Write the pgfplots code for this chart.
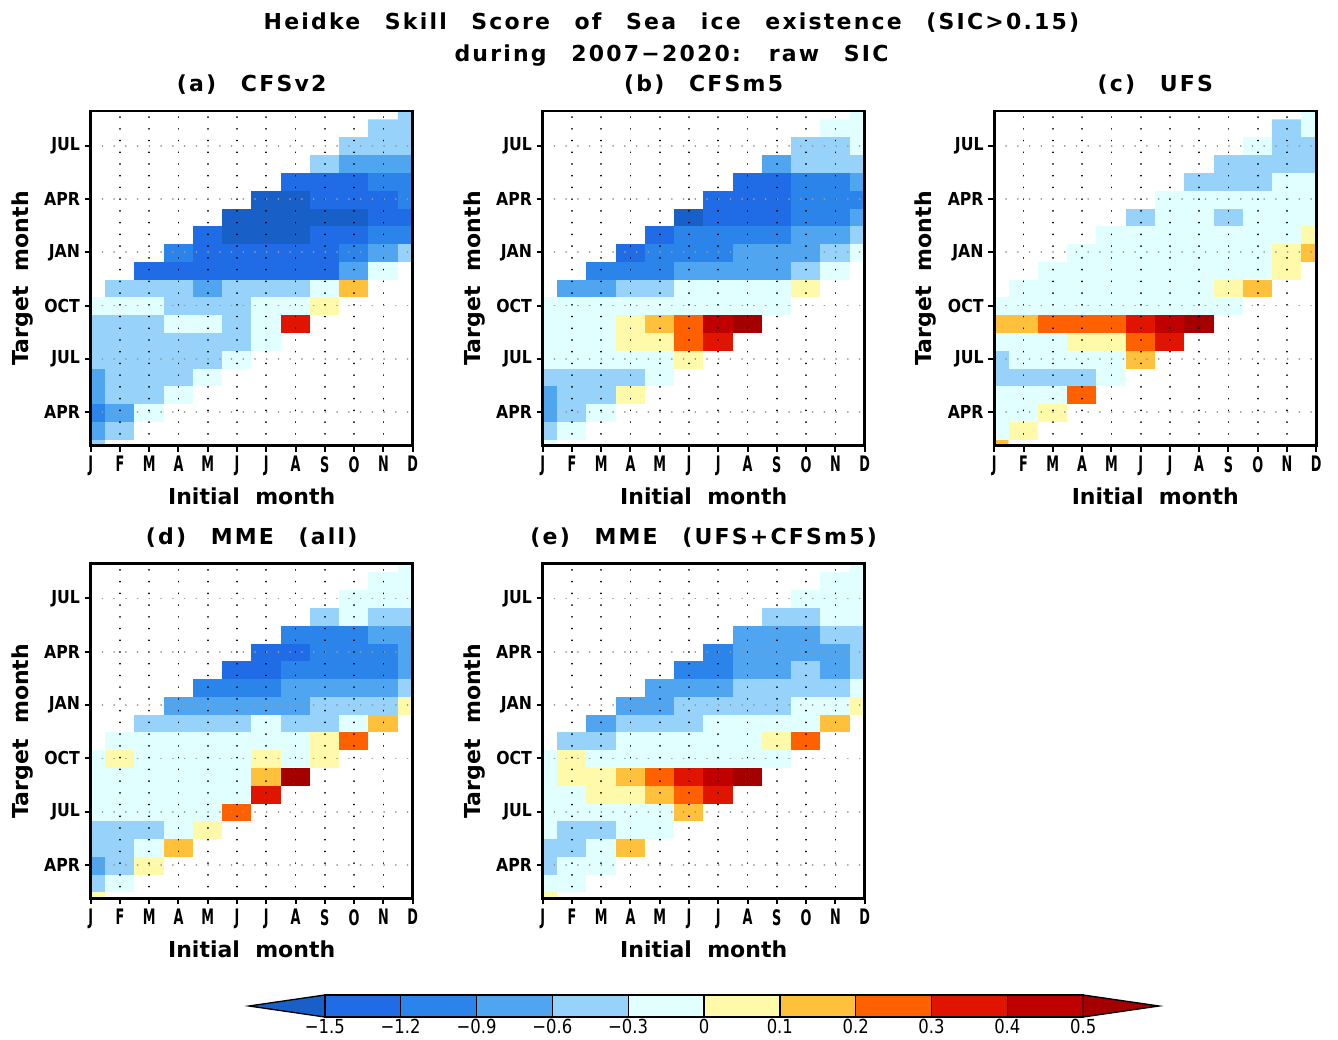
\documentclass[border=0pt]{standalone}
\usepackage{pgfplots}
\usepackage{pgfplotstable}
\pgfplotsset{compat=1.18}
\usepackage{fontspec}
\setmainfont{DejaVu Sans}
\newfontfamily\ttlfont[LetterSpace=10,WordSpace=2.5]{DejaVu Sans}
\newfontfamily\lblfont[LetterSpace=0,WordSpace=2]{DejaVu Sans}
\newfontfamily\ytfont[FakeStretch=0.88]{DejaVu Sans}
\newfontfamily\xtfont[FakeStretch=0.6]{DejaVu Sans}
\newfontfamily\cbfont[FakeStretch=0.85]{DejaVu Sans}

\definecolor{c1}{RGB}{24,96,200}
\definecolor{c2}{RGB}{31,108,230}
\definecolor{c3}{RGB}{43,132,233}
\definecolor{c4}{RGB}{80,165,240}
\definecolor{c5}{RGB}{150,210,250}
\definecolor{c6}{RGB}{225,255,255}
\definecolor{c7}{RGB}{255,250,170}
\definecolor{c8}{RGB}{255,192,60}
\definecolor{c9}{RGB}{255,96,0}
\definecolor{c10}{RGB}{225,20,0}
\definecolor{c11}{RGB}{192,0,0}
\definecolor{c12}{RGB}{165,0,0}

\pgfplotsset{colormap={hss}{rgb255=(255,255,255) rgb255=(24,96,200) rgb255=(31,108,230) rgb255=(43,132,233) rgb255=(80,165,240) rgb255=(150,210,250) rgb255=(225,255,255) rgb255=(255,250,170) rgb255=(255,192,60) rgb255=(255,96,0) rgb255=(225,20,0) rgb255=(192,0,0) rgb255=(165,0,0)}}

% level index: 0 none, 1 <-1.5, 2 -1.5..-1.2, 3 -1.2..-0.9, 4 -0.9..-0.6, 5 -0.6..-0.3, 6 -0.3..0,
% 7 0..0.1, 8 0.1..0.2, 9 0.2..0.3, 10 0.3..0.4, 11 0.4..0.5, 12 >0.5
\pgfplotstableread[row sep=\\]{
x y c\\
0 1 5\\1 1 0\\2 1 0\\3 1 0\\4 1 0\\5 1 0\\6 1 0\\7 1 0\\8 1 0\\9 1 0\\10 1 0\\11 1 0\\
0 2 4\\1 2 5\\2 2 0\\3 2 0\\4 2 0\\5 2 0\\6 2 0\\7 2 0\\8 2 0\\9 2 0\\10 2 0\\11 2 0\\
0 3 3\\1 3 4\\2 3 6\\3 3 0\\4 3 0\\5 3 0\\6 3 0\\7 3 0\\8 3 0\\9 3 0\\10 3 0\\11 3 0\\
0 4 4\\1 4 5\\2 4 5\\3 4 6\\4 4 0\\5 4 0\\6 4 0\\7 4 0\\8 4 0\\9 4 0\\10 4 0\\11 4 0\\
0 5 4\\1 5 5\\2 5 5\\3 5 5\\4 5 6\\5 5 0\\6 5 0\\7 5 0\\8 5 0\\9 5 0\\10 5 0\\11 5 0\\
0 6 5\\1 6 5\\2 6 5\\3 6 5\\4 6 5\\5 6 6\\6 6 0\\7 6 0\\8 6 0\\9 6 0\\10 6 0\\11 6 0\\
0 7 5\\1 7 5\\2 7 5\\3 7 5\\4 7 5\\5 7 5\\6 7 6\\7 7 0\\8 7 0\\9 7 0\\10 7 0\\11 7 0\\
0 8 5\\1 8 5\\2 8 5\\3 8 6\\4 8 6\\5 8 5\\6 8 6\\7 8 10\\8 8 0\\9 8 0\\10 8 0\\11 8 0\\
0 9 6\\1 9 6\\2 9 6\\3 9 5\\4 9 5\\5 9 5\\6 9 6\\7 9 6\\8 9 7\\9 9 0\\10 9 0\\11 9 0\\
0 10 0\\1 10 5\\2 10 5\\3 10 5\\4 10 4\\5 10 5\\6 10 5\\7 10 5\\8 10 6\\9 10 8\\10 10 0\\11 10 0\\
0 11 0\\1 11 0\\2 11 2\\3 11 2\\4 11 2\\5 11 2\\6 11 2\\7 11 2\\8 11 2\\9 11 4\\10 11 6\\11 11 0\\
0 12 0\\1 12 0\\2 12 0\\3 12 3\\4 12 2\\5 12 2\\6 12 2\\7 12 2\\8 12 2\\9 12 3\\10 12 4\\11 12 5\\
0 13 0\\1 13 0\\2 13 0\\3 13 0\\4 13 2\\5 13 1\\6 13 1\\7 13 1\\8 13 2\\9 13 2\\10 13 3\\11 13 3\\
0 14 0\\1 14 0\\2 14 0\\3 14 0\\4 14 0\\5 14 1\\6 14 1\\7 14 1\\8 14 1\\9 14 1\\10 14 2\\11 14 2\\
0 15 0\\1 15 0\\2 15 0\\3 15 0\\4 15 0\\5 15 0\\6 15 1\\7 15 1\\8 15 2\\9 15 2\\10 15 2\\11 15 3\\
0 16 0\\1 16 0\\2 16 0\\3 16 0\\4 16 0\\5 16 0\\6 16 0\\7 16 2\\8 16 2\\9 16 2\\10 16 3\\11 16 3\\
0 17 0\\1 17 0\\2 17 0\\3 17 0\\4 17 0\\5 17 0\\6 17 0\\7 17 0\\8 17 5\\9 17 4\\10 17 4\\11 17 4\\
0 18 0\\1 18 0\\2 18 0\\3 18 0\\4 18 0\\5 18 0\\6 18 0\\7 18 0\\8 18 0\\9 18 5\\10 18 5\\11 18 5\\
0 19 0\\1 19 0\\2 19 0\\3 19 0\\4 19 0\\5 19 0\\6 19 0\\7 19 0\\8 19 0\\9 19 0\\10 19 5\\11 19 5\\
0 20 0\\1 20 0\\2 20 0\\3 20 0\\4 20 0\\5 20 0\\6 20 0\\7 20 0\\8 20 0\\9 20 0\\10 20 0\\11 20 5\\
}\hssA

\pgfplotstableread[row sep=\\]{
x y c\\
0 1 6\\1 1 0\\2 1 0\\3 1 0\\4 1 0\\5 1 0\\6 1 0\\7 1 0\\8 1 0\\9 1 0\\10 1 0\\11 1 0\\
0 2 5\\1 2 6\\2 2 0\\3 2 0\\4 2 0\\5 2 0\\6 2 0\\7 2 0\\8 2 0\\9 2 0\\10 2 0\\11 2 0\\
0 3 4\\1 3 5\\2 3 6\\3 3 0\\4 3 0\\5 3 0\\6 3 0\\7 3 0\\8 3 0\\9 3 0\\10 3 0\\11 3 0\\
0 4 4\\1 4 5\\2 4 5\\3 4 7\\4 4 0\\5 4 0\\6 4 0\\7 4 0\\8 4 0\\9 4 0\\10 4 0\\11 4 0\\
0 5 5\\1 5 5\\2 5 5\\3 5 5\\4 5 6\\5 5 0\\6 5 0\\7 5 0\\8 5 0\\9 5 0\\10 5 0\\11 5 0\\
0 6 6\\1 6 6\\2 6 6\\3 6 6\\4 6 6\\5 6 7\\6 6 0\\7 6 0\\8 6 0\\9 6 0\\10 6 0\\11 6 0\\
0 7 6\\1 7 6\\2 7 6\\3 7 7\\4 7 7\\5 7 9\\6 7 10\\7 7 0\\8 7 0\\9 7 0\\10 7 0\\11 7 0\\
0 8 6\\1 8 6\\2 8 6\\3 8 7\\4 8 8\\5 8 9\\6 8 11\\7 8 12\\8 8 0\\9 8 0\\10 8 0\\11 8 0\\
0 9 6\\1 9 6\\2 9 6\\3 9 6\\4 9 6\\5 9 6\\6 9 6\\7 9 6\\8 9 6\\9 9 0\\10 9 0\\11 9 0\\
0 10 0\\1 10 4\\2 10 4\\3 10 5\\4 10 5\\5 10 6\\6 10 6\\7 10 6\\8 10 6\\9 10 7\\10 10 0\\11 10 0\\
0 11 0\\1 11 0\\2 11 3\\3 11 3\\4 11 3\\5 11 4\\6 11 4\\7 11 4\\8 11 4\\9 11 5\\10 11 6\\11 11 0\\
0 12 0\\1 12 0\\2 12 0\\3 12 2\\4 12 3\\5 12 3\\6 12 3\\7 12 4\\8 12 4\\9 12 4\\10 12 5\\11 12 6\\
0 13 0\\1 13 0\\2 13 0\\3 13 0\\4 13 2\\5 13 3\\6 13 3\\7 13 3\\8 13 3\\9 13 4\\10 13 4\\11 13 5\\
0 14 0\\1 14 0\\2 14 0\\3 14 0\\4 14 0\\5 14 1\\6 14 2\\7 14 2\\8 14 2\\9 14 3\\10 14 3\\11 14 4\\
0 15 0\\1 15 0\\2 15 0\\3 15 0\\4 15 0\\5 15 0\\6 15 2\\7 15 2\\8 15 2\\9 15 3\\10 15 3\\11 15 3\\
0 16 0\\1 16 0\\2 16 0\\3 16 0\\4 16 0\\5 16 0\\6 16 0\\7 16 2\\8 16 2\\9 16 3\\10 16 3\\11 16 4\\
0 17 0\\1 17 0\\2 17 0\\3 17 0\\4 17 0\\5 17 0\\6 17 0\\7 17 0\\8 17 4\\9 17 5\\10 17 5\\11 17 5\\
0 18 0\\1 18 0\\2 18 0\\3 18 0\\4 18 0\\5 18 0\\6 18 0\\7 18 0\\8 18 0\\9 18 5\\10 18 5\\11 18 6\\
0 19 0\\1 19 0\\2 19 0\\3 19 0\\4 19 0\\5 19 0\\6 19 0\\7 19 0\\8 19 0\\9 19 0\\10 19 6\\11 19 6\\
0 20 0\\1 20 0\\2 20 0\\3 20 0\\4 20 0\\5 20 0\\6 20 0\\7 20 0\\8 20 0\\9 20 0\\10 20 0\\11 20 6\\
}\hssB

\pgfplotstableread[row sep=\\]{
x y c\\
0 1 8\\1 1 0\\2 1 0\\3 1 0\\4 1 0\\5 1 0\\6 1 0\\7 1 0\\8 1 0\\9 1 0\\10 1 0\\11 1 0\\
0 2 6\\1 2 7\\2 2 0\\3 2 0\\4 2 0\\5 2 0\\6 2 0\\7 2 0\\8 2 0\\9 2 0\\10 2 0\\11 2 0\\
0 3 6\\1 3 6\\2 3 7\\3 3 0\\4 3 0\\5 3 0\\6 3 0\\7 3 0\\8 3 0\\9 3 0\\10 3 0\\11 3 0\\
0 4 6\\1 4 6\\2 4 6\\3 4 9\\4 4 0\\5 4 0\\6 4 0\\7 4 0\\8 4 0\\9 4 0\\10 4 0\\11 4 0\\
0 5 5\\1 5 5\\2 5 5\\3 5 5\\4 5 6\\5 5 0\\6 5 0\\7 5 0\\8 5 0\\9 5 0\\10 5 0\\11 5 0\\
0 6 5\\1 6 6\\2 6 6\\3 6 6\\4 6 6\\5 6 8\\6 6 0\\7 6 0\\8 6 0\\9 6 0\\10 6 0\\11 6 0\\
0 7 6\\1 7 6\\2 7 6\\3 7 7\\4 7 7\\5 7 9\\6 7 10\\7 7 0\\8 7 0\\9 7 0\\10 7 0\\11 7 0\\
0 8 8\\1 8 8\\2 8 9\\3 8 9\\4 8 9\\5 8 10\\6 8 11\\7 8 12\\8 8 0\\9 8 0\\10 8 0\\11 8 0\\
0 9 6\\1 9 6\\2 9 6\\3 9 6\\4 9 6\\5 9 6\\6 9 6\\7 9 6\\8 9 6\\9 9 0\\10 9 0\\11 9 0\\
0 10 0\\1 10 6\\2 10 6\\3 10 6\\4 10 6\\5 10 6\\6 10 6\\7 10 6\\8 10 7\\9 10 8\\10 10 0\\11 10 0\\
0 11 0\\1 11 0\\2 11 6\\3 11 6\\4 11 6\\5 11 6\\6 11 6\\7 11 6\\8 11 6\\9 11 6\\10 11 7\\11 11 0\\
0 12 0\\1 12 0\\2 12 0\\3 12 6\\4 12 6\\5 12 6\\6 12 6\\7 12 6\\8 12 6\\9 12 6\\10 12 7\\11 12 8\\
0 13 0\\1 13 0\\2 13 0\\3 13 0\\4 13 6\\5 13 6\\6 13 6\\7 13 6\\8 13 6\\9 13 6\\10 13 6\\11 13 7\\
0 14 0\\1 14 0\\2 14 0\\3 14 0\\4 14 0\\5 14 5\\6 14 6\\7 14 6\\8 14 5\\9 14 6\\10 14 6\\11 14 6\\
0 15 0\\1 15 0\\2 15 0\\3 15 0\\4 15 0\\5 15 0\\6 15 6\\7 15 6\\8 15 6\\9 15 6\\10 15 6\\11 15 6\\
0 16 0\\1 16 0\\2 16 0\\3 16 0\\4 16 0\\5 16 0\\6 16 0\\7 16 5\\8 16 5\\9 16 5\\10 16 6\\11 16 6\\
0 17 0\\1 17 0\\2 17 0\\3 17 0\\4 17 0\\5 17 0\\6 17 0\\7 17 0\\8 17 5\\9 17 5\\10 17 5\\11 17 5\\
0 18 0\\1 18 0\\2 18 0\\3 18 0\\4 18 0\\5 18 0\\6 18 0\\7 18 0\\8 18 0\\9 18 6\\10 18 5\\11 18 5\\
0 19 0\\1 19 0\\2 19 0\\3 19 0\\4 19 0\\5 19 0\\6 19 0\\7 19 0\\8 19 0\\9 19 0\\10 19 5\\11 19 6\\
0 20 0\\1 20 0\\2 20 0\\3 20 0\\4 20 0\\5 20 0\\6 20 0\\7 20 0\\8 20 0\\9 20 0\\10 20 0\\11 20 6\\
}\hssC

\pgfplotstableread[row sep=\\]{
x y c\\
0 1 7\\1 1 0\\2 1 0\\3 1 0\\4 1 0\\5 1 0\\6 1 0\\7 1 0\\8 1 0\\9 1 0\\10 1 0\\11 1 0\\
0 2 5\\1 2 6\\2 2 0\\3 2 0\\4 2 0\\5 2 0\\6 2 0\\7 2 0\\8 2 0\\9 2 0\\10 2 0\\11 2 0\\
0 3 4\\1 3 5\\2 3 7\\3 3 0\\4 3 0\\5 3 0\\6 3 0\\7 3 0\\8 3 0\\9 3 0\\10 3 0\\11 3 0\\
0 4 5\\1 4 5\\2 4 6\\3 4 8\\4 4 0\\5 4 0\\6 4 0\\7 4 0\\8 4 0\\9 4 0\\10 4 0\\11 4 0\\
0 5 5\\1 5 5\\2 5 5\\3 5 6\\4 5 7\\5 5 0\\6 5 0\\7 5 0\\8 5 0\\9 5 0\\10 5 0\\11 5 0\\
0 6 6\\1 6 6\\2 6 6\\3 6 6\\4 6 6\\5 6 9\\6 6 0\\7 6 0\\8 6 0\\9 6 0\\10 6 0\\11 6 0\\
0 7 6\\1 7 6\\2 7 6\\3 7 6\\4 7 6\\5 7 6\\6 7 10\\7 7 0\\8 7 0\\9 7 0\\10 7 0\\11 7 0\\
0 8 6\\1 8 6\\2 8 6\\3 8 6\\4 8 6\\5 8 6\\6 8 8\\7 8 12\\8 8 0\\9 8 0\\10 8 0\\11 8 0\\
0 9 6\\1 9 7\\2 9 6\\3 9 6\\4 9 6\\5 9 6\\6 9 7\\7 9 6\\8 9 7\\9 9 0\\10 9 0\\11 9 0\\
0 10 0\\1 10 6\\2 10 6\\3 10 6\\4 10 6\\5 10 6\\6 10 6\\7 10 6\\8 10 7\\9 10 9\\10 10 0\\11 10 0\\
0 11 0\\1 11 0\\2 11 5\\3 11 5\\4 11 5\\5 11 5\\6 11 6\\7 11 5\\8 11 5\\9 11 6\\10 11 8\\11 11 0\\
0 12 0\\1 12 0\\2 12 0\\3 12 4\\4 12 4\\5 12 4\\6 12 4\\7 12 4\\8 12 5\\9 12 5\\10 12 5\\11 12 7\\
0 13 0\\1 13 0\\2 13 0\\3 13 0\\4 13 3\\5 13 3\\6 13 3\\7 13 4\\8 13 4\\9 13 4\\10 13 4\\11 13 5\\
0 14 0\\1 14 0\\2 14 0\\3 14 0\\4 14 0\\5 14 2\\6 14 2\\7 14 3\\8 14 3\\9 14 3\\10 14 3\\11 14 4\\
0 15 0\\1 15 0\\2 15 0\\3 15 0\\4 15 0\\5 15 0\\6 15 2\\7 15 2\\8 15 3\\9 15 3\\10 15 3\\11 15 4\\
0 16 0\\1 16 0\\2 16 0\\3 16 0\\4 16 0\\5 16 0\\6 16 0\\7 16 3\\8 16 3\\9 16 3\\10 16 4\\11 16 4\\
0 17 0\\1 17 0\\2 17 0\\3 17 0\\4 17 0\\5 17 0\\6 17 0\\7 17 0\\8 17 5\\9 17 6\\10 17 5\\11 17 5\\
0 18 0\\1 18 0\\2 18 0\\3 18 0\\4 18 0\\5 18 0\\6 18 0\\7 18 0\\8 18 0\\9 18 6\\10 18 6\\11 18 6\\
0 19 0\\1 19 0\\2 19 0\\3 19 0\\4 19 0\\5 19 0\\6 19 0\\7 19 0\\8 19 0\\9 19 0\\10 19 6\\11 19 6\\
0 20 0\\1 20 0\\2 20 0\\3 20 0\\4 20 0\\5 20 0\\6 20 0\\7 20 0\\8 20 0\\9 20 0\\10 20 0\\11 20 6\\
}\hssD

\pgfplotstableread[row sep=\\]{
x y c\\
0 1 7\\1 1 0\\2 1 0\\3 1 0\\4 1 0\\5 1 0\\6 1 0\\7 1 0\\8 1 0\\9 1 0\\10 1 0\\11 1 0\\
0 2 6\\1 2 6\\2 2 0\\3 2 0\\4 2 0\\5 2 0\\6 2 0\\7 2 0\\8 2 0\\9 2 0\\10 2 0\\11 2 0\\
0 3 5\\1 3 6\\2 3 6\\3 3 0\\4 3 0\\5 3 0\\6 3 0\\7 3 0\\8 3 0\\9 3 0\\10 3 0\\11 3 0\\
0 4 5\\1 4 5\\2 4 6\\3 4 8\\4 4 0\\5 4 0\\6 4 0\\7 4 0\\8 4 0\\9 4 0\\10 4 0\\11 4 0\\
0 5 6\\1 5 5\\2 5 5\\3 5 6\\4 5 6\\5 5 0\\6 5 0\\7 5 0\\8 5 0\\9 5 0\\10 5 0\\11 5 0\\
0 6 6\\1 6 6\\2 6 6\\3 6 6\\4 6 6\\5 6 8\\6 6 0\\7 6 0\\8 6 0\\9 6 0\\10 6 0\\11 6 0\\
0 7 6\\1 7 6\\2 7 7\\3 7 7\\4 7 8\\5 7 9\\6 7 10\\7 7 0\\8 7 0\\9 7 0\\10 7 0\\11 7 0\\
0 8 6\\1 8 7\\2 8 7\\3 8 8\\4 8 9\\5 8 10\\6 8 11\\7 8 12\\8 8 0\\9 8 0\\10 8 0\\11 8 0\\
0 9 6\\1 9 7\\2 9 6\\3 9 6\\4 9 6\\5 9 6\\6 9 6\\7 9 6\\8 9 6\\9 9 0\\10 9 0\\11 9 0\\
0 10 0\\1 10 5\\2 10 5\\3 10 6\\4 10 6\\5 10 6\\6 10 6\\7 10 6\\8 10 7\\9 10 9\\10 10 0\\11 10 0\\
0 11 0\\1 11 0\\2 11 4\\3 11 5\\4 11 5\\5 11 5\\6 11 6\\7 11 6\\8 11 6\\9 11 6\\10 11 8\\11 11 0\\
0 12 0\\1 12 0\\2 12 0\\3 12 4\\4 12 4\\5 12 5\\6 12 5\\7 12 5\\8 12 5\\9 12 6\\10 12 6\\11 12 7\\
0 13 0\\1 13 0\\2 13 0\\3 13 0\\4 13 4\\5 13 4\\6 13 4\\7 13 5\\8 13 5\\9 13 5\\10 13 5\\11 13 6\\
0 14 0\\1 14 0\\2 14 0\\3 14 0\\4 14 0\\5 14 3\\6 14 3\\7 14 4\\8 14 4\\9 14 5\\10 14 4\\11 14 5\\
0 15 0\\1 15 0\\2 15 0\\3 15 0\\4 15 0\\5 15 0\\6 15 3\\7 15 4\\8 15 4\\9 15 4\\10 15 4\\11 15 5\\
0 16 0\\1 16 0\\2 16 0\\3 16 0\\4 16 0\\5 16 0\\6 16 0\\7 16 4\\8 16 4\\9 16 4\\10 16 5\\11 16 5\\
0 17 0\\1 17 0\\2 17 0\\3 17 0\\4 17 0\\5 17 0\\6 17 0\\7 17 0\\8 17 5\\9 17 5\\10 17 6\\11 17 6\\
0 18 0\\1 18 0\\2 18 0\\3 18 0\\4 18 0\\5 18 0\\6 18 0\\7 18 0\\8 18 0\\9 18 6\\10 18 6\\11 18 6\\
0 19 0\\1 19 0\\2 19 0\\3 19 0\\4 19 0\\5 19 0\\6 19 0\\7 19 0\\8 19 0\\9 19 0\\10 19 6\\11 19 6\\
0 20 0\\1 20 0\\2 20 0\\3 20 0\\4 20 0\\5 20 0\\6 20 0\\7 20 0\\8 20 0\\9 20 0\\10 20 0\\11 20 6\\
}\hssE

\newcommand{\ttlsize}{\fontsize{16.5}{19}\selectfont}

\pgfplotsset{
 hss panel/.style={
  anchor=south west, scale only axis, width=241.5pt, height=251pt,
  xmin=0, xmax=11, ymin=1.12, ymax=19.95,
  axis on top,
  xtick={0,1,...,11}, xticklabels={J,F,M,A,M,J,J,A,S,O,N,D},
  ytick={3,6,9,12,15,18}, yticklabels={APR,JUL,OCT,JAN,APR,JUL},
  tick align=outside, xtick pos=bottom, ytick pos=left,
  major tick length=4.5pt,
  every tick/.append style={black, line width=1.5pt},
  axis line style={line width=2pt},
  xmajorgrids, ymajorgrids,
  x grid style={black, line width=1.3pt, line cap=round, dash pattern=on 0.1pt off 8.7pt},
  y grid style={black!40, line width=1.3pt, line cap=round, dash pattern=on 0.1pt off 8.7pt},
  colormap name=hss, colormap access=direct,
  xticklabel style={font=\xtfont\bfseries\fontsize{16}{18}\selectfont},
  yticklabel style={font=\ytfont\bfseries\fontsize{13.4}{15}\selectfont},
  xlabel={Initial month}, ylabel={Target month},
  label style={font=\lblfont\bfseries\ttlsize},
  xlabel style={at={(axis description cs:0.5,-0.177)}, anchor=base},
  ylabel style={at={(axis description cs:-0.213,0.5)}, anchor=center},
  title style={at={(axis description cs:0.5,1.033)}, anchor=base, font=\ttlfont\bfseries\ttlsize},
 },
 hss cells/.style={matrix plot*, mesh/cols=12, point meta=explicit},
}

\begin{document}
\begin{tikzpicture}
\path[use as bounding box] (0,0) rectangle (1003.5pt,779.25pt);

\node[anchor=base, font=\ttlfont\bfseries\ttlsize] at (503.6pt,756.75pt) {Heidke Skill Score of Sea ice existence (SIC>0.15)};
\node[anchor=base, font=\ttlfont\bfseries\ttlsize] at (503.6pt,732.75pt) {during 2007−2020: raw SIC};

\begin{axis}[hss panel, at={(68pt,445pt)}, title={(a) CFSv2}]
\addplot[hss cells] table[x=x, y=y, meta=c] {\hssA};
\end{axis}

\begin{axis}[hss panel, at={(407pt,445pt)}, title={(b) CFSm5}]
\addplot[hss cells] table[x=x, y=y, meta=c] {\hssB};
\end{axis}

\begin{axis}[hss panel, at={(745.7pt,445pt)}, title={(c) UFS}]
\addplot[hss cells] table[x=x, y=y, meta=c] {\hssC};
\end{axis}

\begin{axis}[hss panel, at={(68pt,105.4pt)}, title={(d) MME (all)}]
\addplot[hss cells] table[x=x, y=y, meta=c] {\hssD};
\end{axis}

\begin{axis}[hss panel, at={(407pt,105.4pt)}, title={(e) MME (UFS+CFSm5)}]
\addplot[hss cells] table[x=x, y=y, meta=c] {\hssE};
\end{axis}

\begin{axis}[at={(186.75pt,16.5pt)}, anchor=south west, scale only axis,
  width=682.5pt, height=16.5pt, xmin=-1, xmax=11, ymin=0, ymax=1,
  clip=false, axis line style={draw=none}, ytick=\empty,
  xtick={0,1,...,10},
  xticklabels={−1.5,−1.2,−0.9,−0.6,−0.3,0,0.1,0.2,0.3,0.4,0.5},
  major tick length=0pt,
  xticklabel style={font=\cbfont\fontsize{14.5}{16}\selectfont, anchor=north, inner sep=1pt, yshift=-0.5pt}]
\addplot[fill=c1, draw=black, line width=1pt] coordinates {(0,0) (-1,0.5) (0,1)} -- cycle;
\addplot[fill=c2, draw=black, line width=1pt] coordinates {(0,0) (1,0) (1,1) (0,1)} -- cycle;
\addplot[fill=c3, draw=black, line width=1pt] coordinates {(1,0) (2,0) (2,1) (1,1)} -- cycle;
\addplot[fill=c4, draw=black, line width=1pt] coordinates {(2,0) (3,0) (3,1) (2,1)} -- cycle;
\addplot[fill=c5, draw=black, line width=1pt] coordinates {(3,0) (4,0) (4,1) (3,1)} -- cycle;
\addplot[fill=c6, draw=black, line width=1pt] coordinates {(4,0) (5,0) (5,1) (4,1)} -- cycle;
\addplot[fill=c7, draw=black, line width=1pt] coordinates {(5,0) (6,0) (6,1) (5,1)} -- cycle;
\addplot[fill=c8, draw=black, line width=1pt] coordinates {(6,0) (7,0) (7,1) (6,1)} -- cycle;
\addplot[fill=c9, draw=black, line width=1pt] coordinates {(7,0) (8,0) (8,1) (7,1)} -- cycle;
\addplot[fill=c10, draw=black, line width=1pt] coordinates {(8,0) (9,0) (9,1) (8,1)} -- cycle;
\addplot[fill=c11, draw=black, line width=1pt] coordinates {(9,0) (10,0) (10,1) (9,1)} -- cycle;
\addplot[fill=c12, draw=black, line width=1pt] coordinates {(10,0) (11,0.5) (10,1)} -- cycle;
\end{axis}
\end{tikzpicture}
\end{document}
